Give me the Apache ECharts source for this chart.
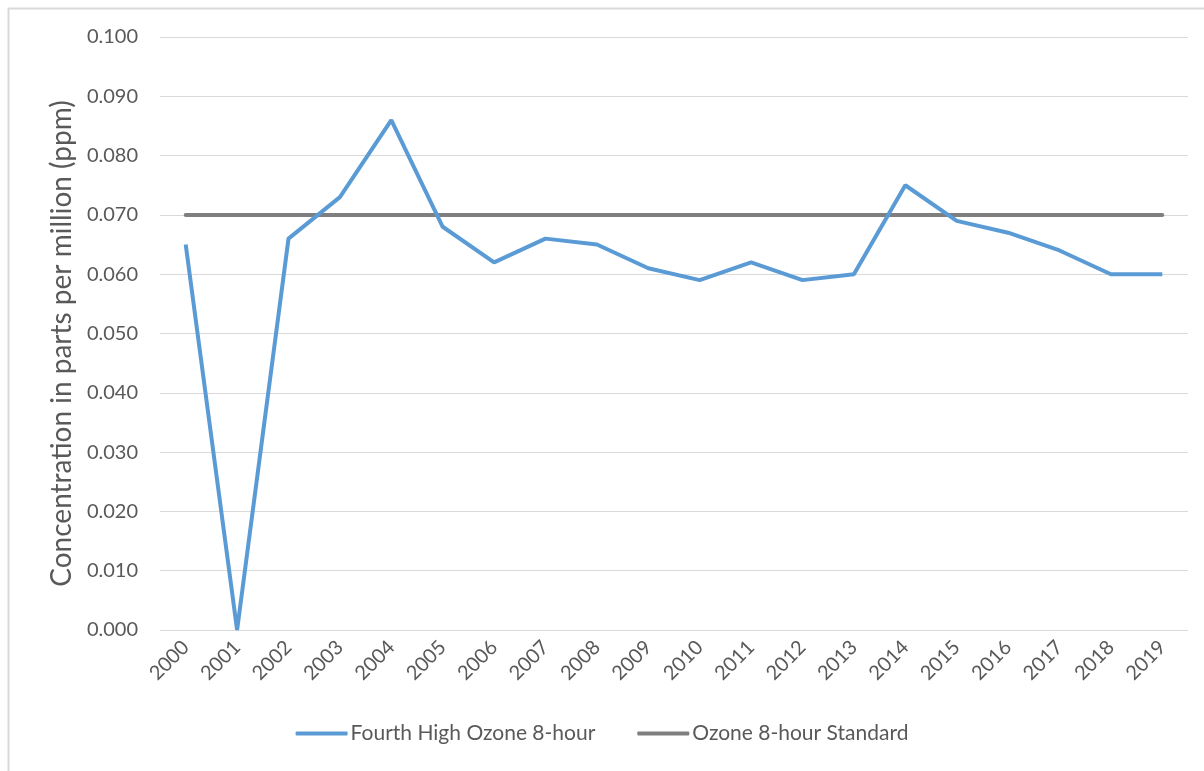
<!DOCTYPE html>
<html>
<head>
<meta charset="utf-8">
<script src="https://cdn.jsdelivr.net/npm/echarts@6/dist/echarts.min.js"></script>
<style>
  html, body { margin: 0; padding: 0; background: #fff; }
  #main { width: 1204px; height: 771px; }
</style>
</head>
<body>
<div id="main"></div>
<script>
var years = ['2000', '2001', '2002', '2003', '2004', '2005', '2006', '2007', '2008', '2009',
             '2010', '2011', '2012', '2013', '2014', '2015', '2016', '2017', '2018', '2019'];
var fourthHigh = [0.065, 0.000, 0.066, 0.073, 0.086, 0.068, 0.062, 0.066, 0.065, 0.061,
                  0.059, 0.062, 0.059, 0.060, 0.075, 0.069, 0.067, 0.064, 0.060, 0.060];
var standard = [0.070, 0.070, 0.070, 0.070, 0.070, 0.070, 0.070, 0.070, 0.070, 0.070,
                0.070, 0.070, 0.070, 0.070, 0.070, 0.070, 0.070, 0.070, 0.070, 0.070];

var font = 'Lato, "Open Sans", sans-serif';
var textColor = '#595959';

var myChart = echarts.init(document.getElementById('main'));
myChart.setOption({
  animation: false,
  textStyle: { fontFamily: font, color: textColor },
  graphic: [{
    type: 'rect',
    shape: { x: 8.5, y: 8.5, width: 1220, height: 770 },
    style: { fill: 'none', stroke: '#d9d9d9', lineWidth: 2 },
    silent: true
  }],
  grid: { left: 160, right: 16, top: 37, bottom: 141 },
  legend: {
    bottom: 22,
    left: 'center',
    itemWidth: 52,
    itemHeight: 4,
    itemGap: 42,
    textStyle: { fontSize: 21, color: textColor, fontFamily: font, padding: [0, 0, 0, -2] },
    data: [
      { name: 'Fourth High Ozone 8-hour', icon: 'roundRect' },
      { name: 'Ozone 8-hour Standard', icon: 'roundRect' }
    ]
  },
  xAxis: {
    type: 'category',
    data: years,
    boundaryGap: true,
    axisLine: { show: false },
    axisTick: { show: false },
    axisLabel: { rotate: 45, fontSize: 20, color: textColor, margin: 14, fontFamily: font }
  },
  yAxis: {
    type: 'value',
    min: 0,
    max: 0.1,
    interval: 0.01,
    name: 'Concentration in parts per million (ppm)',
    nameLocation: 'middle',
    nameGap: 84,
    nameTextStyle: { fontSize: 28, color: textColor, fontFamily: font, padding: [0, 20, 0, 0] },
    axisLine: { show: false },
    axisTick: { show: false },
    axisLabel: {
      fontSize: 20, color: textColor, margin: 22, fontFamily: font,
      formatter: function (v) { return v.toFixed(3); }
    },
    splitLine: { lineStyle: { color: '#d9d9d9', width: 1 } }
  },
  series: [
    {
      name: 'Fourth High Ozone 8-hour',
      type: 'line',
      data: fourthHigh,
      symbol: 'none',
      color: '#5b9bd5',
      lineStyle: { width: 4, color: '#5b9bd5' },
      z: 3
    },
    {
      name: 'Ozone 8-hour Standard',
      type: 'line',
      data: standard,
      symbol: 'none',
      color: '#7f7f7f',
      lineStyle: { width: 4, color: '#7f7f7f', cap: 'round' },
      z: 2
    }
  ]
});
</script>
</body>
</html>
